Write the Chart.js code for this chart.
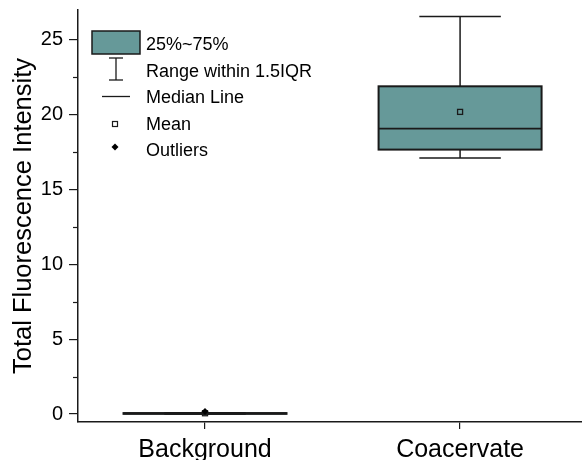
<!DOCTYPE html>
<html><head><meta charset="utf-8">
<script src="https://cdn.jsdelivr.net/npm/chart.js@4"></script>
<style>html,body{margin:0;padding:0;background:#fff;overflow:hidden}#wrap{width:582px;height:460px;position:relative}</style>
</head><body><div id="wrap"><canvas id="c"></canvas></div>
<script>
const categories=['Background','Coacervate'];
const q1=[0.01,17.67];
const q3=[0.06,21.9];
const medians=[0.035,19.07];
const means=[0.05,20.19];
const whiskerLow=[0.0,17.11];
const whiskerHigh=[0.08,26.56];
const outliers=[[0.16],[]];
const yTicks=[0,5,10,15,20,25];
const yMinorTicks=[2.5,7.5,12.5,17.5,22.5];
const legendLabels=['25%~75%','Range within 1.5IQR','Median Line','Mean','Outliers'];
const yTitle='Total Fluorescence Intensity';

const FONT='"Liberation Sans", Arial, sans-serif';
const BOX='#669999', INK='#1a1a1a';

function seg(ctx,x1,y1,x2,y2){ctx.beginPath();ctx.moveTo(x1,y1);ctx.lineTo(x2,y2);ctx.stroke();}

const boxPlugin={id:'boxes',
 afterDatasetsDraw(chart){
  const {ctx,scales:{x,y}}=chart;
  const meta=chart.getDatasetMeta(0);
  ctx.save();
  meta.data.forEach((bar,i)=>{
   const cx=x.getPixelForValue(i);
   const half=bar.width/2;
   const top=y.getPixelForValue(q3[i]), bot=y.getPixelForValue(q1[i]);
   const yH=y.getPixelForValue(whiskerHigh[i]), yL=y.getPixelForValue(whiskerLow[i]);
   ctx.strokeStyle=INK; ctx.lineWidth=1.5;
   seg(ctx,cx,yH,cx,top); seg(ctx,cx,bot,cx,yL);
   seg(ctx,cx-half/2,yH,cx+half/2,yH); seg(ctx,cx-half/2,yL,cx+half/2,yL);
   ctx.lineWidth=2;
   ctx.strokeRect(cx-half,top,2*half,bot-top);
   ctx.lineWidth=1.8;
   const ym=y.getPixelForValue(medians[i]);
   seg(ctx,cx-half,ym,cx+half,ym);
   const ymean=y.getPixelForValue(means[i]);
   ctx.lineWidth=1.3;
   ctx.strokeRect(cx-2.5,ymean-2.5,5,5);
   ctx.fillStyle='#000';
   outliers[i].forEach(v=>{const yo=y.getPixelForValue(v);
     ctx.beginPath();ctx.moveTo(cx,yo-3.5);ctx.lineTo(cx+3.5,yo);ctx.lineTo(cx,yo+3.5);ctx.lineTo(cx-3.5,yo);ctx.closePath();ctx.fill();});
  });
  // minor ticks on y axis
  ctx.strokeStyle=INK; ctx.lineWidth=1.2;
  const xa=chart.chartArea.left;
  yMinorTicks.forEach(v=>{const py=Math.round(y.getPixelForValue(v))+0.5; seg(ctx,xa-5,py,xa,py);});
  ctx.restore();
 },
 afterDraw(chart){
  const ctx=chart.ctx;
  ctx.save();
  ctx.fillStyle=BOX; ctx.strokeStyle=INK; ctx.lineWidth=1.5;
  ctx.fillRect(92,31,48,23); ctx.strokeRect(92,31,48,23);
  ctx.lineWidth=1.3;
  seg(ctx,116,58,116,80); seg(ctx,109,58,123,58); seg(ctx,109,80,123,80);
  seg(ctx,102,96.5,130,96.5);
  ctx.lineWidth=1.2; ctx.strokeRect(112.5,121.5,5,5);
  ctx.fillStyle='#000';
  ctx.beginPath();ctx.moveTo(115,143.5);ctx.lineTo(118.5,147);ctx.lineTo(115,150.5);ctx.lineTo(111.5,147);ctx.closePath();ctx.fill();
  ctx.font='18px '+FONT; ctx.textBaseline='alphabetic'; ctx.textAlign='left';
  const bl=[50,76.5,103,130,156];
  legendLabels.forEach((t,i)=>ctx.fillText(t,146,bl[i]));
  ctx.restore();
 }
};

new Chart(document.getElementById('c'),{
 type:'bar',
 data:{datasets:[{data:categories.map((c,i)=>({x:i,y:[q1[i],q3[i]]})),backgroundColor:BOX,borderWidth:0,barThickness:163}]},
 options:{
  responsive:true,maintainAspectRatio:false,animation:false,
  layout:{padding:{top:10,right:0,left:0,bottom:0}},
  plugins:{legend:{display:false},tooltip:{enabled:false}},
  scales:{
   x:{type:'linear',min:-0.498,max:1.478,offset:false,
      afterBuildTicks(s){s.ticks=categories.map((c,i)=>({value:i}));},
      afterFit(s){s.height=38;s.paddingLeft=0;s.paddingRight=0;},
      ticks:{callback:v=>categories[v],color:'#000',font:{family:FONT,size:25},padding:6,maxRotation:0,autoSkip:false},
      grid:{offset:false,drawOnChartArea:false,drawTicks:true,tickLength:7,color:INK,lineWidth:1.2},
      border:{display:true,color:INK,width:1.5}},
   y:{type:'linear',min:-0.535,max:27.0,
      afterBuildTicks(s){s.ticks=yTicks.map(v=>({value:v}));},
      afterFit(s){s.width=78;s.paddingTop=0;s.paddingBottom=0;},
      ticks:{color:'#000',font:{family:FONT,size:20},padding:6},
      grid:{drawOnChartArea:false,drawTicks:true,tickLength:9,color:INK,lineWidth:1.2},
      border:{display:true,color:INK,width:1.5},
      title:{display:true,text:yTitle,color:'#000',font:{family:FONT,size:25.5},padding:{top:9,bottom:0}}}
  }
 },
 plugins:[boxPlugin]
});
</script></body></html>
